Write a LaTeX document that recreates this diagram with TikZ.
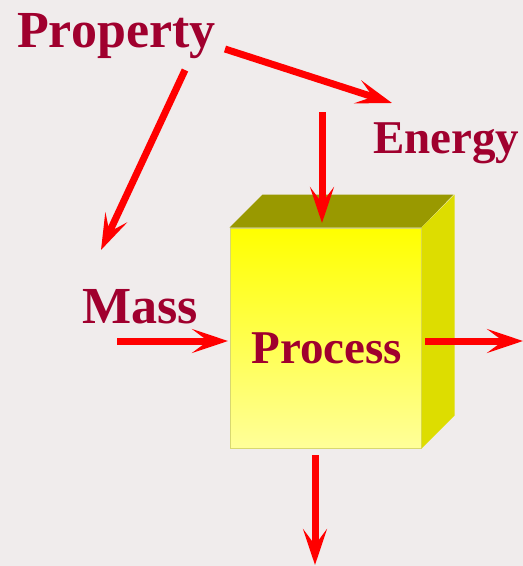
\documentclass[tikz,border=0pt]{standalone}
\usepackage{fontspec}
\setmainfont{Liberation Serif}
\usetikzlibrary{arrows.meta, positioning}
\definecolor{wine}{HTML}{A0002E}
\definecolor{paper}{HTML}{F0ECEC}
\definecolor{olivetop}{HTML}{999900}
\definecolor{sideyellow}{HTML}{DDDD00}
\definecolor{edgeyellow}{HTML}{D8D870}

\begin{document}
\begin{tikzpicture}[
      x = 1pt, y = -1pt,
      >={Stealth[length=36pt, width=24pt, inset=16pt]},
      word/.style={
        text = wine,
        font = \fontsize{52}{62}\selectfont\bfseries,
        inner sep = 0pt,
      },
      smallword/.style={
        word,
        font = \fontsize{47}{56}\selectfont\bfseries,
      },
      flow/.style={->, draw = red, line width = 7pt},
      frontface/.style={
        draw = edgeyellow,
        line width = 1pt,
        top color = yellow,
        bottom color = yellow!40!white,
        minimum width = 191pt,
        minimum height = 220pt,
        inner sep = 0pt,
      },
    ]
    \fill[paper] (0,0) rectangle (523,566);
    \useasboundingbox (0,0) rectangle (523,566);
    % the box
    \node[frontface] (box) at (325.5,338) {};
    \fill[olivetop] (box.north west) -- ++(33,-33) -- ++(191,0)
      -- (box.north east) -- cycle;
    \fill[sideyellow] (box.north east) -- ++(33,-33) -- ++(0,221)
      -- (box.south east) -- cycle;
    \node[smallword, anchor = base] (proc) at (327,363) {Process};
    % labels
    \node[word, anchor = base west] (prop) at (17,47) {Property};
    \node[smallword, anchor = base west] (energy) at (373,153) {Energy};
    \node[word, anchor = base west] (mass) at (82,323) {Mass};
    % connector ends
    \coordinate (propdown) at (185,70);
    \coordinate (massin) at (101,250);
    \coordinate (propright) at (225,49);
    \coordinate (energyin) at (392,103);
    \coordinate (energyout) at (322,112);
    \coordinate (topin) at (322,223);
    \coordinate (massout) at (117,341);
    \coordinate (leftin) at (228,341);
    \coordinate (rightout) at (425,341);
    \coordinate (rightend) at (523,341);
    \coordinate (bottomout) at (315,455);
    \coordinate (bottomend) at (315,565);
    \draw[flow] (propdown) -- (massin);
    \draw[flow] (propright) -- (energyin);
    \draw[flow] (energyout) -- (topin);
    \draw[flow] (massout) -- (leftin);
    \draw[flow] (rightout) -- (rightend);
    \draw[flow] (bottomout) -- (bottomend);
  \end{tikzpicture}
\end{document}
